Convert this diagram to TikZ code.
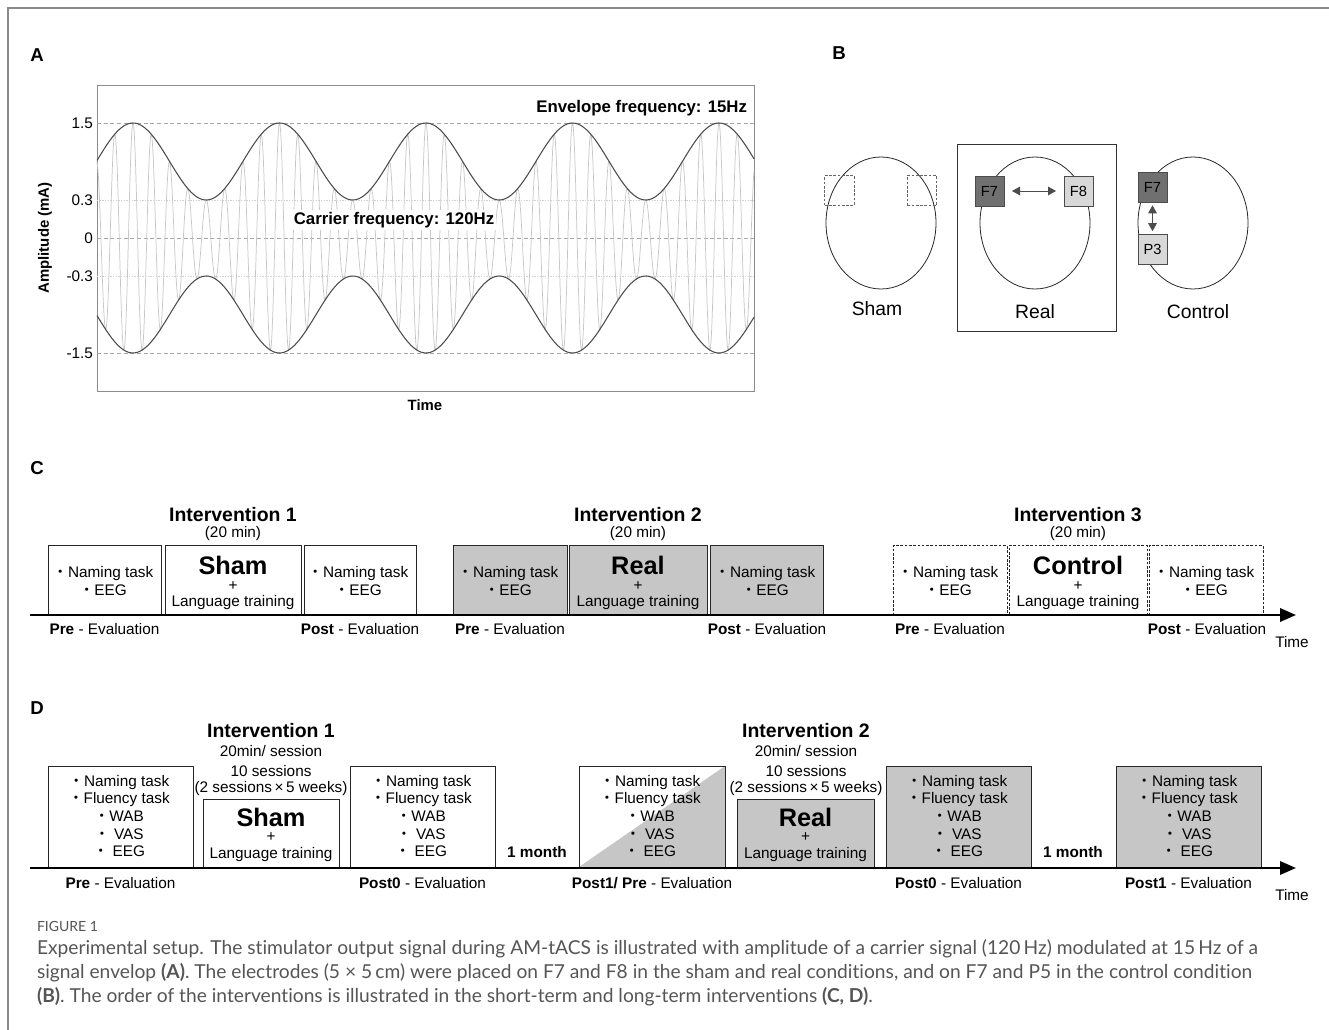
\documentclass[tikz,border=0pt]{standalone}
\usepackage{fontspec}
\setmainfont{Liberation Sans}
\newfontfamily\capfont[Ligatures={NoCommon,NoDiscretionary}]{Lato}
\newfontfamily\cjkfont{Noto Sans CJK JP}
\newcommand\bul{{\cjkfont ・}}
\usetikzlibrary{arrows.meta,fit,shapes.geometric}
\definecolor{boxgray}{HTML}{C6C6C6}
\definecolor{darkel}{HTML}{707070}
\definecolor{lightel}{HTML}{D8D8D8}
\definecolor{capgray}{HTML}{555555}
\definecolor{framegray}{HTML}{8A8A8A}
\begin{document}
\begin{tikzpicture}[x=0.75pt,y=-0.75pt,
  every node/.style={inner sep=0pt,outer sep=0pt},
  panel/.style={font=\fontsize{14}{16}\selectfont\bfseries},
  freq/.style={font=\fontsize{12.6}{14}\selectfont\bfseries},
  axl/.style={font=\fontsize{11.2}{13}\selectfont\bfseries},
  tick/.style={font=\fontsize{11.5}{13}\selectfont},
  grid/.style={draw=black!35,line width=0.6pt,dash pattern=on 3pt off 2pt},
  gridlight/.style={draw=black!18,line width=0.6pt,dash pattern=on 1pt off 1pt},
  carrier/.style={draw=black!22,line width=0.55pt},
  envel/.style={draw=black!70,line width=0.8pt},
  head/.style={ellipse,draw=black!85,line width=0.6pt,minimum width=82.5pt,minimum height=99pt},
  elec/.style={draw=black!70,line width=0.6pt,minimum width=21.75pt,minimum height=22.5pt,text=black,font=\fontsize{11}{12}\selectfont},
  ghost/.style={draw=black!60,line width=0.6pt,dash pattern=on 2pt off 1.2pt,minimum width=22pt,minimum height=22pt},
  cond/.style={font=\fontsize{14.5}{16}\selectfont},
  dbl/.style={{Triangle[length=6pt,width=6.5pt]}-{Triangle[length=6pt,width=6.5pt]},line width=0.6pt,draw=black!70},
  ttl/.style={font=\fontsize{14.6}{16}\selectfont\bfseries},
  sub/.style={font=\fontsize{11.5}{13}\selectfont},
  big/.style={font=\fontsize{19}{20}\selectfont\bfseries},
  lst/.style={font=\fontsize{11.5}{13.2}\selectfont,align=center},
  evl/.style={font=\fontsize{11.5}{13}\selectfont},
  stage/.style={draw=black!85,line width=0.75pt},
  stagegray/.style={stage,fill=boxgray},
  stagedash/.style={stage,dash pattern=on 2pt off 1.2pt},
  tl/.style={line width=1.9pt,-{Triangle[length=12pt,width=10pt]}},
]
\useasboundingbox (0,0) rectangle (1329,1030);
\draw[framegray,line width=1.2pt] (8,1030) -- (8,8) -- (1329,8);

% ---------------- Panel A ----------------
\node[panel] (lA) at (37,55) {A};
\draw[black!45,line width=0.7pt] (97,85) rectangle (754,391);
\draw[grid] (97,123) -- (754,123);
\draw[grid] (97,238) -- (754,238);
\draw[grid] (97,353) -- (754,353);
\draw[gridlight] (97,200) -- (754,200);
\draw[gridlight] (97,276) -- (754,276);
\draw[carrier] plot[domain=97:754,samples=1400] (\x,{238-(76.5+38.5*cos((\x-133)/146.5*360))*cos((\x-133)/18.3125*360)});
\draw[envel] plot[domain=97:754,samples=300] (\x,{238-(76.5+38.5*cos((\x-133)/146.5*360))});
\draw[envel] plot[domain=97:754,samples=300] (\x,{238+(76.5+38.5*cos((\x-133)/146.5*360))});
\node[tick,anchor=east] (t15) at (93,123) {1.5};
\node[tick,anchor=east] (t03) at (93,200) {0.3};
\node[tick,anchor=east] (t00) at (93,238) {0};
\node[tick,anchor=east] (tm03) at (93,276) {-0.3};
\node[tick,anchor=east] (tm15) at (93,353) {-1.5};
\node[axl,rotate=90] (ylab) at (45,238) {Amplitude (mA)};
\node[axl] (xlab) at (425,405) {Time};
\node[freq,fill=white,inner sep=1.5pt] (carr) at (394,220) {Carrier frequency: 120Hz};
\node[freq,anchor=east] (env) at (747,108) {Envelope frequency: 15Hz};

% ---------------- Panel B ----------------
\node[panel] (lB) at (839,53) {B};
\node[head] (hsham) at (881,223) {};
\node[ghost] (gl) at (839.5,190.5) {};
\node[ghost] (gr) at (922,190.5) {};
\node[cond] (nsham) at (877,309) {Sham};
\node[draw=black!80,line width=0.7pt,fit={(957,144) (1116,331)}] (realbox) {};
\node[head] (hreal) at (1035,223) {};
\node[elec,fill=darkel] (rF7) at (989.5,191) {F7};
\node[elec,fill=lightel] (rF8) at (1078.5,191) {F8};
\draw[dbl,shorten <=6pt,shorten >=6pt] (rF7) -- (rF8);
\node[cond] (nreal) at (1035,312) {Real};
\node[head] (hctl) at (1193,223) {};
\node[elec,fill=darkel] (cF7) at (1152.5,187) {F7};
\node[elec,fill=lightel] (cP3) at (1152.5,249.5) {P3};
\draw[dbl,shorten <=2.5pt,shorten >=2.5pt] (cF7) -- (cP3);
\node[cond] (nctl) at (1198,312) {Control};

% ---------------- Panel C ----------------
\node[panel] (lC) at (37,468) {C};
\node[stage,fit={(48,546) (161,614)}] (c1a) {};
\node[stage,fit={(165,546) (301,614)}] (c1b) {};
\node[stage,fit={(304,546) (416,614)}] (c1c) {};
\node[stagegray,fit={(453,546) (567,614)}] (c2a) {};
\node[stagegray,fit={(569,546) (707,614)}] (c2b) {};
\node[stagegray,fit={(710,546) (823,614)}] (c2c) {};
\node[stagedash,fit={(893,546) (1007,614)}] (c3a) {};
\node[stagedash,fit={(1009,546) (1147,614)}] (c3b) {};
\node[stagedash,fit={(1149,546) (1263,614)}] (c3c) {};

\node[ttl] (ci1) at (233,515) {Intervention 1};
\node[sub] (ci1t) at (233,534) {(20 min)};
\node[ttl] (ci2) at (638,515) {Intervention 2};
\node[sub] (ci2t) at (638,534) {(20 min)};
\node[ttl] (ci3) at (1078,515) {Intervention 3};
\node[sub] (ci3t) at (1078,534) {(20 min)};

\node[lst] (c1al) at (103,581) {\bul Naming task\\\bul EEG};
\node[lst] (c1cl) at (358,581) {\bul Naming task\\\bul EEG};
\node[lst] (c2al) at (508,581) {\bul Naming task\\\bul EEG};
\node[lst] (c2cl) at (765,581) {\bul Naming task\\\bul EEG};
\node[lst] (c3al) at (948,581) {\bul Naming task\\\bul EEG};
\node[lst] (c3cl) at (1204,581) {\bul Naming task\\\bul EEG};

\node[big] (c1s) at (233,565) {Sham};
\node[sub] (c1p) at (233,586) {+};
\node[sub] (c1l) at (233,603) {Language training};
\node[big] (c2s) at (638,565) {Real};
\node[sub] (c2p) at (638,586) {+};
\node[sub] (c2l) at (638,603) {Language training};
\node[big] (c3s) at (1078,565) {Control};
\node[sub] (c3p) at (1078,586) {+};
\node[sub] (c3l) at (1078,603) {Language training};

\node[evl] (c1ae) at (104.5,629) {\textbf{Pre} - Evaluation};
\node[evl] (c1ce) at (360,629) {\textbf{Post} - Evaluation};
\node[evl] (c2ae) at (510,629) {\textbf{Pre} - Evaluation};
\node[evl] (c2ce) at (767,629) {\textbf{Post} - Evaluation};
\node[evl] (c3ae) at (950,629) {\textbf{Pre} - Evaluation};
\node[evl] (c3ce) at (1207,629) {\textbf{Post} - Evaluation};
\coordinate (cs) at (30,615);
\coordinate (ce) at (1296,615);
\draw[tl] (cs) -- (ce);
\node[evl] (ctime) at (1292,642) {Time};

% ---------------- Panel D ----------------
\node[panel] (lD) at (37,708) {D};
\node[stage,fit={(48,766) (193,867)}] (d1) {};
\node[stage,fit={(203,799) (339,867)}] (d2) {};
\node[stage,fit={(350,766) (495,867)}] (d3) {};
\node[stage,fit={(579,766) (725,867)}] (d4) {};
\fill[boxgray] (d4.south west) -- (d4.south east) -- (d4.north east) -- cycle;
\draw[stage] (d4.south west) rectangle (d4.north east);
\node[stagegray,fit={(737,799) (874,867)}] (d5) {};
\node[stagegray,fit={(886,766) (1031,867)}] (d6) {};
\node[stagegray,fit={(1116,766) (1261,867)}] (d7) {};

\node[ttl] (di1) at (271,731) {Intervention 1};
\node[sub] (di1a) at (271,751) {20min/ session};
\node[sub] (di1b) at (271,771) {10 sessions};
\node[sub] (di1c) at (271,789) {(2 sessions\,×\,5 weeks)};
\node[ttl] (di2) at (806,731) {Intervention 2};
\node[sub] (di2a) at (806,751) {20min/ session};
\node[sub] (di2b) at (806,771) {10 sessions};
\node[sub] (di2c) at (806,789) {(2 sessions\,×\,5 weeks)};

\node[lst] (d1l) at (119,816) {\bul Naming task\\\bul Fluency task\\\bul WAB\\\bul\ VAS\\\bul\ EEG};
\node[lst] (d3l) at (421,816) {\bul Naming task\\\bul Fluency task\\\bul WAB\\\bul\ VAS\\\bul\ EEG};
\node[lst] (d4l) at (650,816) {\bul Naming task\\\bul Fluency task\\\bul WAB\\\bul\ VAS\\\bul\ EEG};
\node[lst] (d6l) at (957,816) {\bul Naming task\\\bul Fluency task\\\bul WAB\\\bul\ VAS\\\bul\ EEG};
\node[lst] (d7l) at (1187,816) {\bul Naming task\\\bul Fluency task\\\bul WAB\\\bul\ VAS\\\bul\ EEG};

\node[big] (d2s) at (271,817) {Sham};
\node[sub] (d2p) at (271,837) {+};
\node[sub] (d2l) at (271,855) {Language training};
\node[big] (d5s) at (805.5,817) {Real};
\node[sub] (d5p) at (805.5,837) {+};
\node[sub] (d5l) at (805.5,855) {Language training};

\node[evl,font=\fontsize{11.5}{13}\selectfont\bfseries] (m1) at (537,852) {1 month};
\node[evl,font=\fontsize{11.5}{13}\selectfont\bfseries] (m2) at (1073,852) {1 month};

\node[evl] (d1e) at (120.5,883) {\textbf{Pre} - Evaluation};
\node[evl] (d3e) at (422.5,883) {\textbf{Post0} - Evaluation};
\node[evl] (d4e) at (652,883) {\textbf{Post1/ Pre} - Evaluation};
\node[evl] (d6e) at (958.5,883) {\textbf{Post0} - Evaluation};
\node[evl] (d7e) at (1188.5,883) {\textbf{Post1} - Evaluation};
\coordinate (ds) at (30,868);
\coordinate (de) at (1296,868);
\draw[tl] (ds) -- (de);
\node[evl] (dtime) at (1292,895) {Time};

% ---------------- Caption ----------------
\node[anchor=west,font=\capfont\fontsize{10.5}{12}\selectfont,text=capgray] (fig) at (37,926) {FIGURE 1};
\node[anchor=north west,align=left,font=\capfont\fontsize{14.4}{18}\selectfont,text=capgray] (cap) at (37,940)
{Experimental setup. The stimulator output signal during AM-tACS is illustrated with amplitude of a carrier signal (120\,Hz) modulated at 15\,Hz of a\\
signal envelop \textbf{(A)}. The electrodes (5 × 5\,cm) were placed on F7 and F8 in the sham and real conditions, and on F7 and P5 in the control condition\\
\textbf{(B)}. The order of the interventions is illustrated in the short-term and long-term interventions \textbf{(C, D)}.};
\end{tikzpicture}
\end{document}
